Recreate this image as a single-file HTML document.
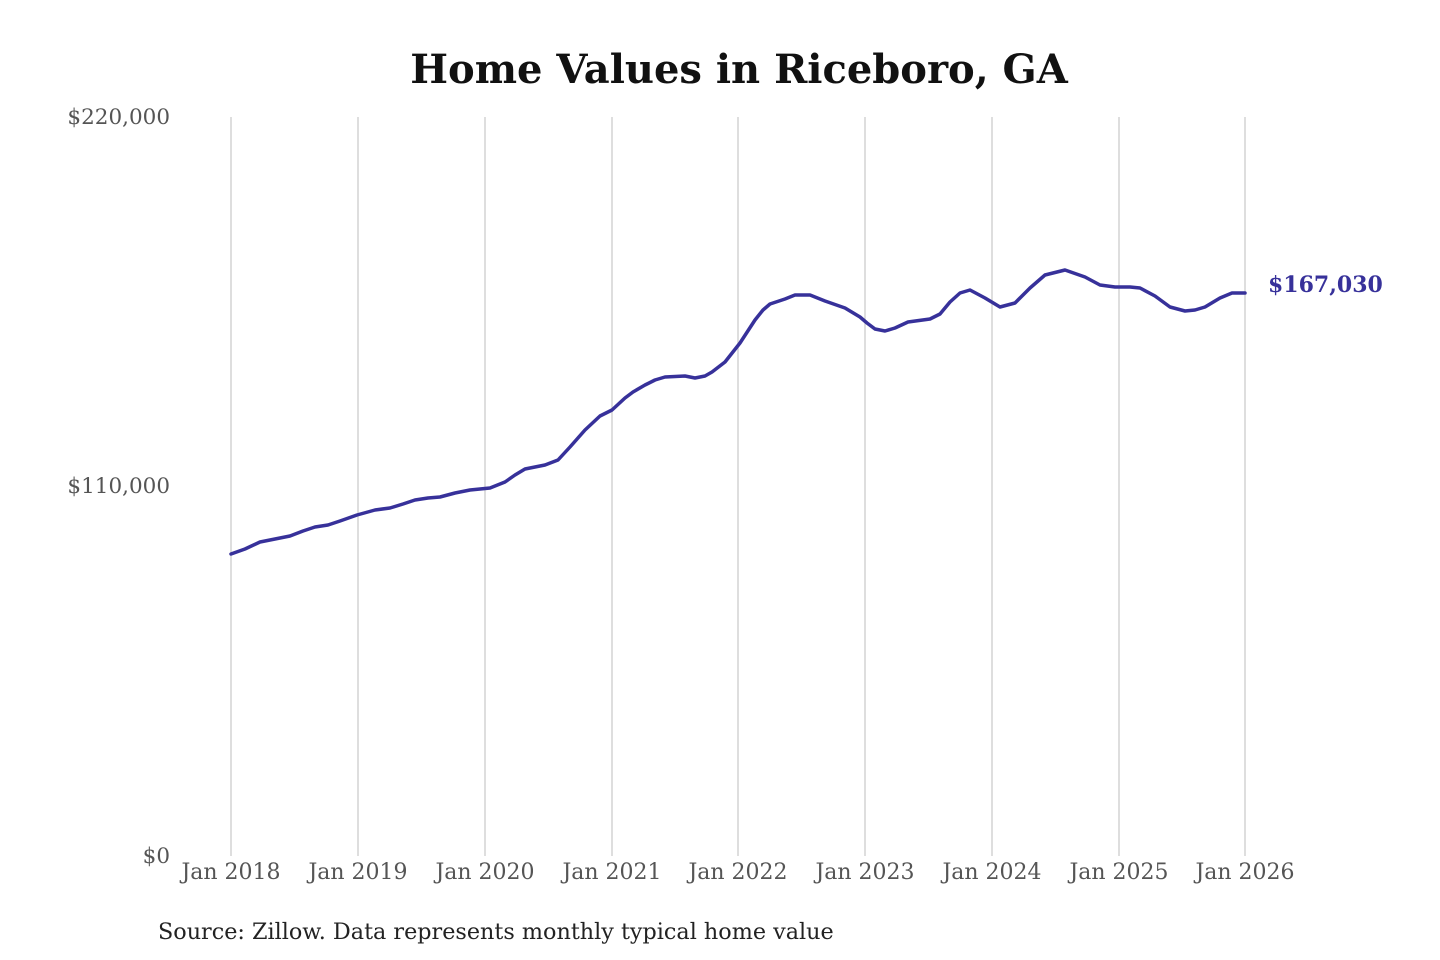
<!DOCTYPE html>
<html><head><meta charset="utf-8"><style>
html,body{margin:0;padding:0;background:#fff;}
svg{display:block;}
</style></head><body>
<svg width="1440" height="960" viewBox="0 0 1440 960" xmlns="http://www.w3.org/2000/svg" font-family="'DejaVu Serif','Liberation Serif',serif">
<rect width="1440" height="960" fill="#fff"/>
<text x="739" y="83" text-anchor="middle" font-size="40" font-weight="bold" fill="#111">Home Values in Riceboro, GA</text>
<g stroke="#c8c8c8" stroke-width="1.2">
<line x1="231" y1="117" x2="231" y2="856"/>
<line x1="358" y1="117" x2="358" y2="856"/>
<line x1="485" y1="117" x2="485" y2="856"/>
<line x1="612" y1="117" x2="612" y2="856"/>
<line x1="738" y1="117" x2="738" y2="856"/>
<line x1="865" y1="117" x2="865" y2="856"/>
<line x1="992" y1="117" x2="992" y2="856"/>
<line x1="1119" y1="117" x2="1119" y2="856"/>
<line x1="1245" y1="117" x2="1245" y2="856"/>
</g>
<g font-size="21.5" fill="#555" text-anchor="end">
<text x="170" y="124">$220,000</text>
<text x="170" y="493">$110,000</text>
<text x="170" y="863">$0</text>
</g>
<g font-size="22" fill="#555" text-anchor="middle">
<text x="231" y="879">Jan 2018</text>
<text x="358" y="879">Jan 2019</text>
<text x="485" y="879">Jan 2020</text>
<text x="612" y="879">Jan 2021</text>
<text x="738" y="879">Jan 2022</text>
<text x="865" y="879">Jan 2023</text>
<text x="992" y="879">Jan 2024</text>
<text x="1119" y="879">Jan 2025</text>
<text x="1245" y="879">Jan 2026</text>
</g>
<polyline fill="none" stroke="#37319a" stroke-width="3.5" stroke-linejoin="round" stroke-linecap="round"
points="231,554 245,549 260,542 275,539 290,536 303,531 315,527 328,525 340,521 357,515 375,510 390,508 403,504 415,500 428,498 440,497 455,493 470,490 490,488 505,482 515,475 525,469 545,465 558,460 570,447 585,430 600,416 612,410 625,398 633,392 645,385 655,380 665,377 685,376 695,378 705,376 712,372 725,362 740,343 755,320 763,310 770,304 785,299 795,295 810,295 825,301 845,308 860,317 867,323 875,329 885,331 895,328 908,322 930,319 940,314 950,302 960,293 970,290 985,298 1000,307 1015,303 1030,288 1045,275 1065,270 1085,277 1100,285 1115,287 1130,287 1140,288 1155,296 1170,307 1185,311 1195,310 1205,307 1220,298 1232,293 1245,293"/>
<text x="1268" y="292" font-size="22" font-weight="bold" fill="#37319a">$167,030</text>
<text x="158" y="939" font-size="22.3" fill="#222">Source: Zillow. Data represents monthly typical home value</text>
</svg>
</body></html>
